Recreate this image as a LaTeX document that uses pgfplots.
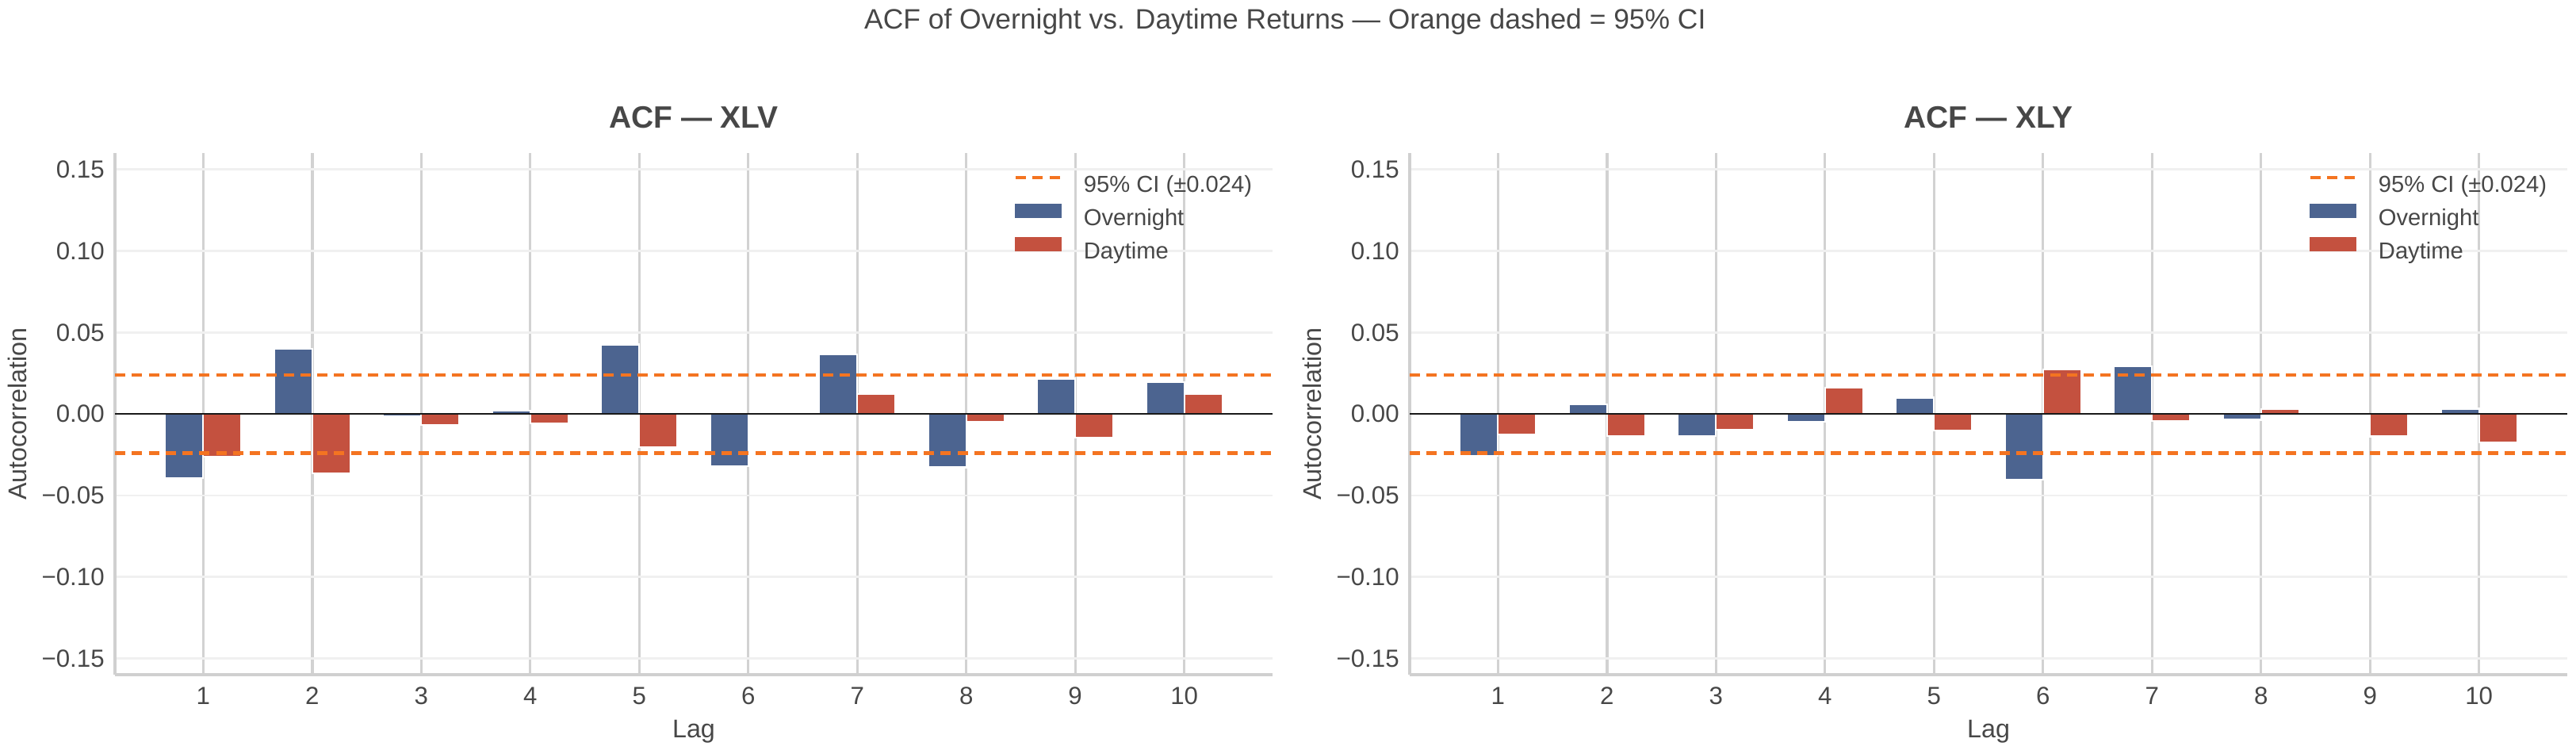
\documentclass[border=0pt]{standalone}
\usepackage{fontspec}
\setmainfont{Liberation Sans}
\usepackage{pgfplots}
\usepackage{pgfplotstable}
\pgfplotsset{compat=1.18}

\definecolor{ovblue}{HTML}{4C6490}
\definecolor{dayred}{HTML}{C4513F}
\definecolor{ciorange}{HTML}{F47421}
\definecolor{txt}{HTML}{474747}
\definecolor{vgrid}{HTML}{D2D2D2}
\definecolor{hgrid}{HTML}{F0F0F0}
\definecolor{spine}{HTML}{D0D0D0}

% lag, overnight ACF, daytime ACF
\pgfplotstableread{
lag ov day
1 -0.0393 -0.0262
2 0.0401 -0.0365
3 -0.0013 -0.0068
4 0.0018 -0.0058
5 0.0426 -0.0204
6 -0.0322 -0.0003
7 0.0367 0.0124
8 -0.0328 -0.0049
9 0.0217 -0.0146
10 0.0197 0.0120
}\xlvdata
\pgfplotstableread{
lag ov day
1 -0.0257 -0.0126
2 0.0057 -0.0136
3 -0.0136 -0.0097
4 -0.0049 0.0163
5 0.0100 -0.0102
6 -0.0403 0.0275
7 0.0294 -0.0045
8 -0.0036 0.0028
9 0.0000 -0.0138
10 0.0032 -0.0176
}\xlydata

\tikzset{
  ciline/.style={ciorange, line width=2pt, dash pattern=on 6.3pt off 3.9pt},
  zeroline/.style={black!90, line width=1pt},
}

\pgfplotsset{
  acfpanel/.style={
    scale only axis, width=700.8pt, height=315.8pt,
    anchor=south west,
    xmin=0.19, xmax=10.81, ymin=-0.16, ymax=0.16,
    axis x line*=bottom, axis y line*=left,
    axis line style={spine, line width=1.9pt},
    major tick length=0pt,
    xtick={1,2,3,4,5,6,7,8,9,10},
    xticklabels={1,2,3,4,5,6,7,8,9,10},
    ytick={-0.15,-0.10,-0.05,0,0.05,0.10,0.15},
    yticklabels={−0.15,−0.10,−0.05,0.00,0.05,0.10,0.15},
    xmajorgrids, ymajorgrids,
    x grid style={vgrid, line width=1.6pt},
    y grid style={hgrid, line width=1.3pt},
    tick label style={font=\fontsize{15}{18}\selectfont, text=txt},
    xticklabel style={anchor=base, yshift=-17.8pt, inner sep=0pt},
    yticklabel style={anchor=east, xshift=-6.2pt, inner sep=0pt},
    title style={at={(0.5,1)}, anchor=base, yshift=9.1pt,
      font=\bfseries\fontsize{18.7}{22}\selectfont, text=txt},
    every axis x label/.style={at={(axis description cs:0.5,-0.12)}, anchor=base,
      font=\fontsize{15.5}{18}\selectfont, text=txt},
    every axis y label/.style={at={(axis description cs:-0.0846,0.5)}, rotate=90, anchor=center,
      font=\fontsize{15.5}{18}\selectfont, text=txt},
    xlabel={Lag}, ylabel={Autocorrelation},
    legend style={draw=none, fill=none, at={(axis description cs:0.7767,0.9587)},
      anchor=north west, inner sep=0pt, outer sep=0pt, row sep=4.2pt, column sep=12.8pt,
      font=\fontsize{14}{16}\selectfont, text=txt,
      nodes={inner sep=0pt, text height=10.5pt, text depth=3pt}},
    legend cell align=left,
  },
  ovbar/.style={ybar, bar width=0.35, bar shift=-0.175, fill=ovblue, draw=white, line width=1pt,
    legend image code/.code={\fill[ovblue] (0pt,1.25pt) rectangle (27.4pt,8.75pt);}},
  daybar/.style={ybar, bar width=0.35, bar shift=0.175, fill=dayred, draw=white, line width=1pt,
    legend image code/.code={\fill[dayred] (0pt,1.25pt) rectangle (27.4pt,8.75pt);}},
}

\begin{document}
\begin{tikzpicture}
  \useasboundingbox (0,0) rectangle (1559.52pt,453.6pt);
  \node[anchor=base, font=\fontsize{17}{20}\selectfont, text=txt] at (778pt,436pt)
    {ACF of Overnight vs. Daytime Returns — Orange dashed = 95\% CI};

  \begin{axis}[acfpanel, at={(69.6pt,45.1pt)}, title={ACF — XLV}]
    \addlegendimage{legend image code/.code={\draw[ciline] (0pt,5pt) -- (27.4pt,5pt);}}
    \addlegendentry{95\% CI (±0.024)}
    \addplot[ovbar] table[x=lag, y=ov] {\xlvdata};
    \addlegendentry{Overnight}
    \addplot[daybar] table[x=lag, y=day] {\xlvdata};
    \addlegendentry{Daytime}
    \addplot[zeroline, forget plot] coordinates {(0.19,0) (10.81,0)};
    \addplot[ciline, forget plot] coordinates {(0.19,0.024) (10.81,0.024)};
    \addplot[ciline, forget plot] coordinates {(0.19,-0.024) (10.81,-0.024)};
  \end{axis}

  \begin{axis}[acfpanel, at={(853.44pt,45.1pt)}, title={ACF — XLY}]
    \addlegendimage{legend image code/.code={\draw[ciline] (0pt,5pt) -- (27.4pt,5pt);}}
    \addlegendentry{95\% CI (±0.024)}
    \addplot[ovbar] table[x=lag, y=ov] {\xlydata};
    \addlegendentry{Overnight}
    \addplot[daybar] table[x=lag, y=day] {\xlydata};
    \addlegendentry{Daytime}
    \addplot[zeroline, forget plot] coordinates {(0.19,0) (10.81,0)};
    \addplot[ciline, forget plot] coordinates {(0.19,0.024) (10.81,0.024)};
    \addplot[ciline, forget plot] coordinates {(0.19,-0.024) (10.81,-0.024)};
  \end{axis}
\end{tikzpicture}
\end{document}
